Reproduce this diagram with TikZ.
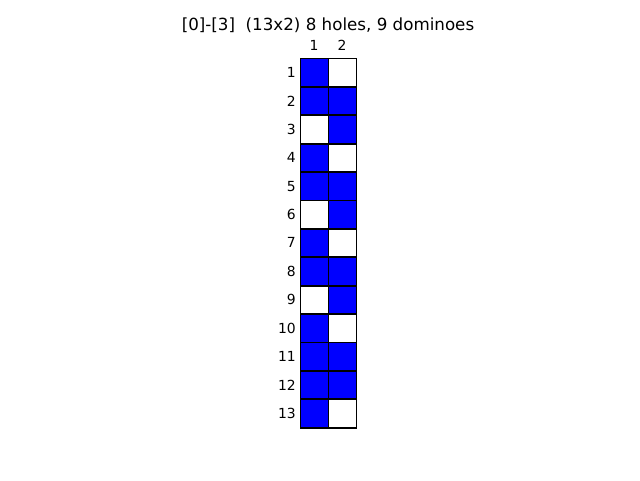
\documentclass[tikz,border=0pt]{standalone}
\usepackage{fontspec}
\setmainfont{DejaVu Sans}
\begin{document}
\begin{tikzpicture}[x=1pt,y=-1pt,
  cellB/.style={fill=blue,minimum width=28pt,minimum height=28.4pt,inner sep=0pt,anchor=north west},
  cellW/.style={fill=white,minimum width=28pt,minimum height=28.4pt,inner sep=0pt,anchor=north west},
  edge/.style={draw=black,line width=1.3pt},
  lab/.style={font=\fontsize{13.9}{14}\selectfont,inner sep=0pt},
  ttl/.style={font=\fontsize{16.7}{18}\selectfont,inner sep=0pt}]
\useasboundingbox (0,0) rectangle (640,480);
\node[ttl] (title) at (328,25) {[0]-[3]\ \ (13x2) 8 holes, 9 dominoes};
\node[lab] (c1) at (314,45.5) {1};
\node[lab] (c2) at (342,45.5) {2};
\foreach \r/\a/\b in {1/B/W,2/B/B,3/W/B,4/B/W,5/B/B,6/W/B,7/B/W,8/B/B,9/W/B,10/B/W,11/B/B,12/B/B,13/B/W}{
  \pgfmathsetmacro{\yy}{58.3+(\r-1)*28.4}
  \node[cell\a] (r\r c1) at (300.3,\yy) {};
  \node[cell\b] (r\r c2) at (328.3,\yy) {};
  \node[lab,anchor=east] (l\r) at (296,\yy+14.2) {\r};
}
\foreach \r in {1,...,13}{
  \foreach \c in {1,2}{
    \draw[edge] (r\r c\c.north west) rectangle (r\r c\c.south east);
  }
}
\end{tikzpicture}
\end{document}
